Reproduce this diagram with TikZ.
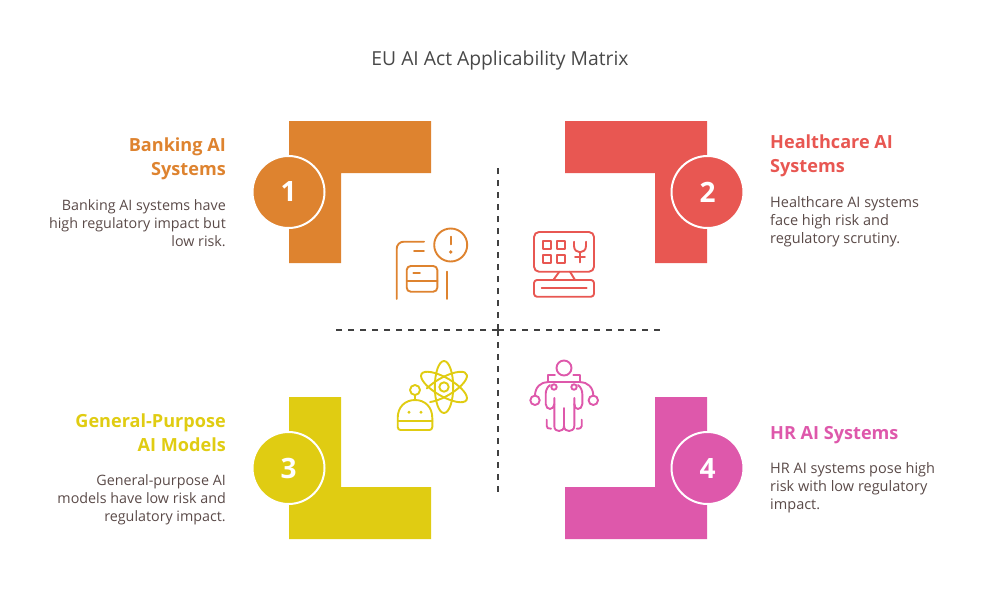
\documentclass[tikz,border=0pt]{standalone}
\usepackage{fontspec}
\setmainfont{Open Sans}
\usetikzlibrary{positioning}

\definecolor{bankcol}{HTML}{DE832F}
\definecolor{healthcol}{HTML}{E85752}
\definecolor{generalcol}{HTML}{E0CC12}
\definecolor{hrcol}{HTML}{DE58AB}
\definecolor{bodycol}{HTML}{5A4A48}
\definecolor{titlecol}{HTML}{484848}
\definecolor{axiscol}{HTML}{404040}

\tikzset{
  badge/.style={circle,draw=white,line width=2pt,minimum size=72pt,inner sep=0pt,text=white,font=\fontsize{28}{28}\selectfont\bfseries},
  headl/.style={anchor=north east,align=right,inner sep=0pt,font=\fontsize{18.1}{24}\selectfont\bfseries},
  headr/.style={anchor=north west,align=left,inner sep=0pt,font=\fontsize{18.1}{24}\selectfont\bfseries},
  textl/.style={anchor=north east,align=right,inner sep=0pt,text=bodycol,font=\fontsize{14.3}{18}\selectfont},
  textr/.style={anchor=north west,align=left,inner sep=0pt,text=bodycol,font=\fontsize{14.5}{18}\selectfont},
  icon/.style={line width=1.9pt,line cap=round,line join=round},
  axis/.style={line width=1.7pt,draw=axiscol,dash pattern=on 6pt off 6pt},
}

\begin{document}
\begin{tikzpicture}[x=1pt,y=-1pt]
  \useasboundingbox (0,0) rectangle (1000,613);

  \node[text=titlecol,font=\fontsize{19.3}{22}\selectfont] (title) at (500,60) {EU AI Act Applicability Matrix};

  % corner shapes
  \fill[bankcol] (289,121) -| (431,173) -| (341,263) -| cycle;
  \fill[healthcol] (565,121) -| (707,263) -| (655,173) -| cycle;
  \fill[generalcol] (289,397) -| (341,487) -| (431,539) -| cycle;
  \fill[hrcol] (655,397) -| (707,539) -| (565,487) -| cycle;

  % axes
  \coordinate (centre) at (498,330);
  \coordinate (north) at (498,167);
  \coordinate (south) at (498,492);
  \coordinate (west) at (336,330);
  \coordinate (east) at (660,330);
  \foreach \tip in {north,south,west,east}
    \draw[axis] (centre) -- (\tip);

  % number badges
  \node[badge,fill=bankcol] (one) at (288.5,192) {\raisebox{-1pt}{1}};
  \node[badge,fill=healthcol] (two) at (707.5,192) {\raisebox{-1pt}{2}};
  \node[badge,fill=generalcol] (three) at (288.5,468) {\raisebox{-1pt}{3}};
  \node[badge,fill=hrcol] (four) at (707.5,468) {\raisebox{-1pt}{4}};

  % left labels
  \node[headl,text=bankcol] (bankhead) at (226,138) {Banking AI\\Systems};
  \node[textl] (banktext) at (226,199.5) {Banking AI systems have\\high regulatory impact but\\low risk.};
  \node[headl,text=generalcol] (generalhead) at (226,413.5) {General-Purpose\\AI Models};
  \node[textl] (generaltext) at (226,474.5) {General-purpose AI\\models have low risk and\\regulatory impact.};

  % right labels
  \node[headr,text=healthcol] (healthhead) at (770,135) {Healthcare AI\\Systems};
  \node[textr] (healthtext) at (770,196.5) {Healthcare AI systems\\face high risk and\\regulatory scrutiny.};
  \node[headr,text=hrcol] (hrhead) at (770,426) {HR AI Systems};
  \node[textr] (hrtext) at (770,462.5) {HR AI systems pose high\\risk with low regulatory\\impact.};

  % banking icon
  \begin{scope}[icon,draw=bankcol]
    \draw[rounded corners=7pt] (424,241.7) -- (396.7,241.7) -- (396.7,299);
    \draw (414,250.7) -- (424,250.7);
    \draw (450.7,245) circle (16.5);
    \draw (450.7,236.7) -- (450.7,244.3);
    \fill[bankcol] (450.7,252) circle (1.8);
    \draw[rounded corners=4pt] (406.7,266) rectangle (437.3,291.7);
    \draw (406.7,281) -- (437.3,281);
    \draw (413.3,273.3) -- (420,273.3);
    \draw (446.7,271.7) -- (446.7,299);
  \end{scope}

  % healthcare icon
  \begin{scope}[icon,draw=healthcol]
    \draw[rounded corners=5pt] (534,232) rectangle (594,271.7);
    \foreach \sx in {543.3,557.3} \foreach \sy in {240.7,254.7}
      \draw (\sx,\sy) rectangle ++(8,8);
    \draw (574,241.7) -- (574,246) .. controls (574,250) and (577,252.3) .. (580,252.3) .. controls (583,252.3) and (586,250) .. (586,246) -- (586,241.7);
    \draw (580,252.3) -- (580,262.3);
    \draw (575,257.3) -- (585,257.3);
    \draw (559.3,271.7) -- (553.3,280);
    \draw (570,271.7) -- (575,280);
    \draw[rounded corners=3pt] (534,280) rectangle (594,296.7);
    \draw (541.7,288) -- (586.7,288);
  \end{scope}

  % general purpose icon
  \begin{scope}[icon,draw=generalcol]
    \draw (415,390) circle (5);
    \draw (415,395) -- (415,400);
    \draw (397.7,418) .. controls (397.7,407) and (405,400) .. (415,400) .. controls (425,400) and (432.3,407) .. (432.3,418) -- (432.3,427) .. controls (432.3,429) and (431,430) .. (429.3,430) -- (400.7,430) .. controls (399,430) and (397.7,429) .. (397.7,427) -- cycle;
    \draw (397.7,420.7) -- (432.3,420.7);
    \fill[generalcol] (409,412.3) circle (1.6) (421,412.3) circle (1.6);
    \draw (444,387) circle (4.7);
    \draw (444,387) ellipse [x radius=9.2,y radius=26];
    \draw[rotate around={-30:(444,387)}] (444,387) ellipse [x radius=26,y radius=9.2];
    \draw[rotate around={30:(444,387)}] (444,387) ++(233:26 and 9.2) arc [start angle=233,end angle=499,x radius=26,y radius=9.2];
  \end{scope}

  % hr icon
  \begin{scope}[icon,draw=hrcol]
    \draw (564,368) circle (7.5);
    \draw (547.7,381.3) -- (547.7,375.3) -- (555,375.3);
    \draw (573.3,375.3) -- (580,375.3) -- (580,381.3);
    \draw (546.7,419.7) -- (546.7,426) .. controls (546.7,428) and (548,428.7) .. (551,428.7);
    \draw (581.7,419.7) -- (581.7,426) .. controls (581.7,428) and (580,428.7) .. (576.7,428.7);
    \draw (535,395.7) .. controls (535,387) and (541,382) .. (548,382) -- (580,382) .. controls (587,382) and (593.3,387) .. (593.3,395.7);
    \draw (550,385) .. controls (547,387) and (545.7,391) .. (545.7,394) -- (545.7,404) .. controls (545.7,407) and (548,409) .. (550,409) .. controls (552,409) and (554.3,407) .. (554.3,404);
    \draw (578,385) .. controls (581,387) and (582.3,391) .. (582.3,394) -- (582.3,404) .. controls (582.3,407) and (580,409) .. (578,409) .. controls (576,409) and (574.3,407) .. (574.3,404);
    \draw (554.3,398) -- (554.3,426) .. controls (554.3,429.5) and (556.5,431) .. (559,431) .. controls (561.5,431) and (564,429.5) .. (564,426) .. controls (564,429.5) and (566.5,431) .. (569,431) .. controls (571.5,431) and (574.3,429.5) .. (574.3,426) -- (574.3,398);
    \draw (564,408) -- (564,426);
    \draw[fill=white] (554,387) circle (2.7) (574,387) circle (2.7);
    \draw (535,400.3) circle (4.7) (593.3,400.3) circle (4.7);
  \end{scope}
\end{tikzpicture}
\end{document}
